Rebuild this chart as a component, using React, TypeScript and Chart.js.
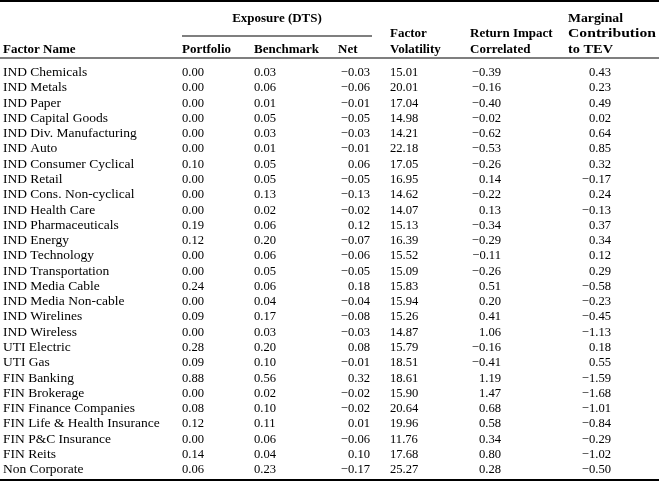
import React, { useEffect, useRef } from "react";
import { Chart, registerables } from "chart.js";

Chart.register(...registerables);

const factorNames = [
  "IND Chemicals", "IND Metals", "IND Paper", "IND Capital Goods", "IND Div. Manufacturing",
  "IND Auto", "IND Consumer Cyclical", "IND Retail", "IND Cons. Non-cyclical", "IND Health Care",
  "IND Pharmaceuticals", "IND Energy", "IND Technology", "IND Transportation", "IND Media Cable",
  "IND Media Non-cable", "IND Wirelines", "IND Wireless", "UTI Electric", "UTI Gas",
  "FIN Banking", "FIN Brokerage", "FIN Finance Companies", "FIN Life & Health Insurance",
  "FIN P&C Insurance", "FIN Reits", "Non Corporate",
];
const portfolio = [0.00, 0.00, 0.00, 0.00, 0.00, 0.00, 0.10, 0.00, 0.00, 0.00, 0.19, 0.12, 0.00, 0.00, 0.24, 0.00, 0.09, 0.00, 0.28, 0.09, 0.88, 0.00, 0.08, 0.12, 0.00, 0.14, 0.06];
const benchmark = [0.03, 0.06, 0.01, 0.05, 0.03, 0.01, 0.05, 0.05, 0.13, 0.02, 0.06, 0.20, 0.06, 0.05, 0.06, 0.04, 0.17, 0.03, 0.20, 0.10, 0.56, 0.02, 0.10, 0.11, 0.06, 0.04, 0.23];
const net = [-0.03, -0.06, -0.01, -0.05, -0.03, -0.01, 0.06, -0.05, -0.13, -0.02, 0.12, -0.07, -0.06, -0.05, 0.18, -0.04, -0.08, -0.03, 0.08, -0.01, 0.32, -0.02, -0.02, 0.01, -0.06, 0.10, -0.17];
const factorVolatility = [15.01, 20.01, 17.04, 14.98, 14.21, 22.18, 17.05, 16.95, 14.62, 14.07, 15.13, 16.39, 15.52, 15.09, 15.83, 15.94, 15.26, 14.87, 15.79, 18.51, 18.61, 15.90, 20.64, 19.96, 11.76, 17.68, 25.27];
const returnImpact = [-0.39, -0.16, -0.40, -0.02, -0.62, -0.53, -0.26, 0.14, -0.22, 0.13, -0.34, -0.29, -0.11, -0.26, 0.51, 0.20, 0.41, 1.06, -0.16, -0.41, 1.19, 1.47, 0.68, 0.58, 0.34, 0.80, 0.28];
const marginalContribution = [0.43, 0.23, 0.49, 0.02, 0.64, 0.85, 0.32, -0.17, 0.24, -0.13, 0.37, 0.34, 0.12, 0.29, -0.58, -0.23, -0.45, -1.13, 0.18, 0.55, -1.59, -1.68, -1.01, -0.84, -0.29, -1.02, -0.50];

const FONT = '"Liberation Serif", "Times New Roman", serif';
const W = 659;
const H = 481;

const columns = [
  { key: "Portfolio", x: 182, align: "left" as CanvasTextAlign },
  { key: "Benchmark", x: 254, align: "left" as CanvasTextAlign },
  { key: "Net", x: 370, align: "right" as CanvasTextAlign },
  { key: "Factor Volatility", x: 390, align: "left" as CanvasTextAlign },
  { key: "Return Impact Correlated", x: 501, align: "right" as CanvasTextAlign },
  { key: "Marginal Contribution to TEV", x: 611, align: "right" as CanvasTextAlign },
];

const fmt = (v: number) => {
  const s = Math.abs(v).toFixed(2);
  return v < 0 ? "\u2212" + s : s;
};

function fitText(ctx: CanvasRenderingContext2D, text: string, x: number, y: number, width: number) {
  const m = ctx.measureText(text).width;
  ctx.save();
  ctx.translate(x, y);
  ctx.scale(width / m, 1);
  ctx.textAlign = "left";
  ctx.fillText(text, 0, 0);
  ctx.restore();
}

const tablePlugin = {
  id: "tableText",
  afterDraw(chart: any) {
    const ctx: CanvasRenderingContext2D = chart.ctx;
    const yScale = chart.scales.y;
    ctx.save();
    ctx.fillStyle = "#000";
    // rules
    ctx.fillRect(0, 0, W, 2);
    ctx.fillRect(0, 57.5, W, 1);
    ctx.fillRect(182, 35.5, 190, 1);
    ctx.fillRect(0, 479, W, 2);

    // header
    ctx.font = "bold 13px " + FONT;
    ctx.textBaseline = "alphabetic";
    ctx.textAlign = "center";
    ctx.fillText("Exposure (DTS)", 277, 21.5);
    ctx.textAlign = "left";
    ctx.fillText("Factor Name", 3, 52.5);
    ctx.fillText("Portfolio", 182, 52.5);
    ctx.fillText("Benchmark", 254, 52.5);
    ctx.fillText("Net", 338, 52.5);
    ctx.fillText("Factor", 390, 37);
    ctx.fillText("Volatility", 390, 52.5);
    ctx.fillText("Return Impact", 470, 37);
    ctx.fillText("Correlated", 470, 52.5);
    fitText(ctx, "Marginal", 568, 21.5, 55);
    fitText(ctx, "Contribution", 568, 37, 88);
    fitText(ctx, "to TEV", 568, 52.5, 45);

    // body
    const labels: string[] = chart.data.labels;
    labels.forEach((name, i) => {
      const y = yScale.getPixelForValue(i) + 4.5;
      ctx.font = "13.5px " + FONT;
      ctx.textAlign = "left";
      ctx.fillText(name, 3, y);
      ctx.font = "12.6px " + FONT;
      chart.data.datasets.forEach((ds: any, c: number) => {
        const col = columns[c];
        ctx.textAlign = col.align;
        ctx.fillText(fmt(ds.data[i]), col.x, y);
      });
    });
    ctx.restore();
  },
};

export default function App() {
  const ref = useRef<HTMLCanvasElement>(null);
  useEffect(() => {
    document.body.style.margin = "0";
    document.body.style.background = "#fff";
    const series = [portfolio, benchmark, net, factorVolatility, returnImpact, marginalContribution];
    const chart = new Chart(ref.current as HTMLCanvasElement, {
      type: "bar",
      data: {
        labels: factorNames,
        datasets: columns.map((c, i) => ({
          label: c.key,
          data: series[i],
          hidden: true,
          backgroundColor: "transparent",
        })),
      },
      options: {
        indexAxis: "y",
        responsive: false,
        animation: false,
        layout: { padding: { top: 63.9, bottom: 4.6, left: 0, right: 0 } },
        plugins: { legend: { display: false }, tooltip: { enabled: false } },
        scales: {
          y: { type: "category", display: false, offset: true },
          x: { type: "linear", display: false, min: -2, max: 26 },
        },
      },
      plugins: [tablePlugin],
    });
    return () => chart.destroy();
  }, []);
  return (
    <div style={{ position: "absolute", left: 0, top: 0, width: W, height: H, background: "#fff" }}>
      <canvas ref={ref} width={W} height={H} />
    </div>
  );
}
